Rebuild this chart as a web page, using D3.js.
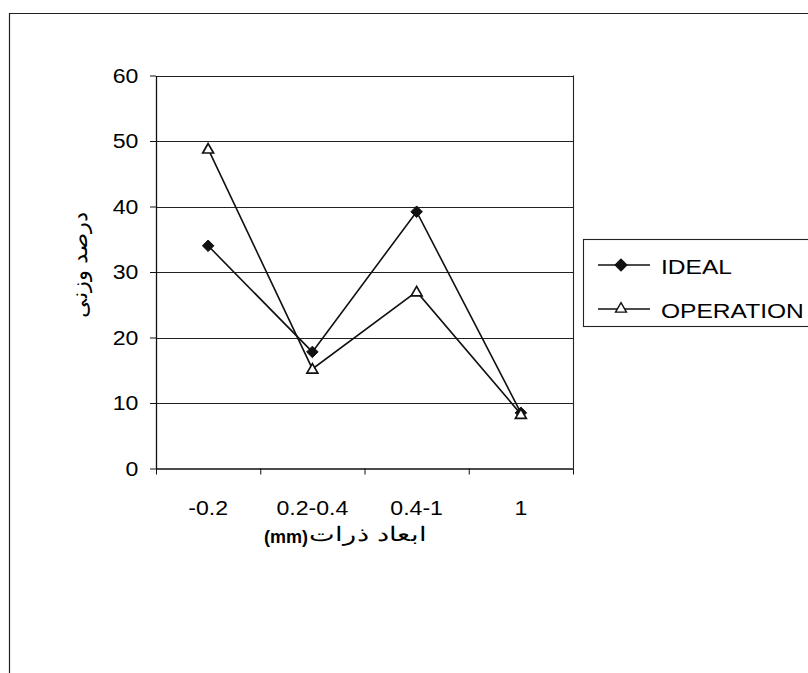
<!DOCTYPE html>
<html>
<head>
<meta charset="utf-8">
<script src="https://cdn.jsdelivr.net/npm/d3@7"></script>
<style>
  html, body { margin: 0; padding: 0; background: #fff; }
  svg { display: block; }
  text { font-family: "Liberation Sans", Arial, sans-serif; fill: #000; }
</style>
</head>
<body>
<svg id="chart" width="808" height="673"></svg>
<script>
// Particle size classes and weight percentages
const categories = ["-0.2", "0.2-0.4", "0.4-1", "1"];
const idealValues = [34, 17.8, 39.2, 8.5];
const operationValues = [48.8, 15.2, 27, 8.3];
const yTicks = [0, 10, 20, 30, 40, 50, 60];
const seriesNames = ["IDEAL", "OPERATION"];
const yTitle = "درصد وزنی";
const xTitleArabic = "ابعاد ذرات";
const xTitleUnit = "(mm)";

const svg = d3.select("#chart");
const stretch = "scale(1.1,1)";

// Outer chart frame (top and left edges)
svg.append("path")
  .attr("d", "M9.5,673 L9.5,13.5 L808,13.5")
  .attr("fill", "none").attr("stroke", "#222").attr("stroke-width", 1.2);

const plot = { left: 156, right: 573, top: 75.5, bottom: 468.5 };

const x = d3.scaleBand().domain(categories).range([plot.left, plot.right]).padding(0);
const xEdge = d3.scaleLinear().domain([0, categories.length]).range([plot.left, plot.right]);
const y = d3.scaleLinear().domain([0, 60]).range([plot.bottom, plot.top]);
const cx = d => x(d) + x.bandwidth() / 2;

// Horizontal gridlines
svg.append("g")
  .selectAll("line")
  .data(yTicks.filter(v => v > 0))
  .join("line")
  .attr("x1", plot.left).attr("x2", plot.right)
  .attr("y1", d => Math.round(y(d)) + 0.5).attr("y2", d => Math.round(y(d)) + 0.5)
  .attr("stroke", "#222").attr("stroke-width", 1.1);

// Right border of the plot area
svg.append("line")
  .attr("x1", plot.right + 0.5).attr("x2", plot.right + 0.5)
  .attr("y1", y(60)).attr("y2", y(0))
  .attr("stroke", "#222").attr("stroke-width", 1.1);

// Y axis
const yAxis = svg.append("g")
  .attr("transform", `translate(${plot.left},0)`)
  .call(d3.axisLeft(y).tickValues(yTicks).tickSize(6).tickPadding(10).tickSizeOuter(0));
yAxis.select(".domain").attr("stroke", "#111").attr("stroke-width", 1.3);
yAxis.selectAll(".tick line").attr("stroke", "#111");
yAxis.selectAll(".tick text")
  .attr("font-size", 21).attr("font-family", "Liberation Sans, Arial, sans-serif")
  .attr("transform", stretch).attr("x", -16);

// X axis: boundary tick marks
const xTicksAxis = svg.append("g")
  .attr("transform", `translate(0,${plot.bottom})`)
  .call(d3.axisBottom(xEdge).tickValues(d3.range(categories.length + 1)).tickSize(6).tickFormat("").tickSizeOuter(0));
xTicksAxis.select(".domain").attr("stroke", "#111").attr("stroke-width", 1.3);
xTicksAxis.selectAll(".tick line").attr("stroke", "#111");

// X axis: category labels at band centres
const xLabels = svg.append("g")
  .attr("transform", `translate(0,${plot.bottom})`)
  .call(d3.axisBottom(x).tickSize(0).tickPadding(32));
xLabels.select(".domain").remove();
xLabels.selectAll(".tick text")
  .attr("font-size", 21).attr("font-family", "Liberation Sans, Arial, sans-serif")
  .attr("transform", stretch);

// Series lines
const line = d3.line().x((d, i) => cx(categories[i])).y(d => y(d));
[idealValues, operationValues].forEach(vals => {
  svg.append("path")
    .datum(vals)
    .attr("d", line)
    .attr("fill", "none").attr("stroke", "#111").attr("stroke-width", 1.6);
});

const diamond = d3.symbol().type(d3.symbolDiamond2).size(85);
const triangle = d3.symbol().type(d3.symbolTriangle2).size(85);

// Markers
svg.append("g").selectAll("path")
  .data(idealValues)
  .join("path")
  .attr("d", diamond)
  .attr("transform", (d, i) => `translate(${cx(categories[i])},${y(d)})`)
  .attr("fill", "#111").attr("stroke", "#111").attr("stroke-width", 1);

svg.append("g").selectAll("path")
  .data(operationValues)
  .join("path")
  .attr("d", triangle)
  .attr("transform", (d, i) => `translate(${cx(categories[i])},${y(d) + 1})`)
  .attr("fill", "#fff").attr("stroke", "#111").attr("stroke-width", 1.7);

// Axis titles
svg.append("text")
  .attr("transform", `translate(87,265) rotate(-90)`)
  .attr("text-anchor", "middle")
  .attr("font-family", "DejaVu Sans, sans-serif")
  .attr("font-size", 21)
  .attr("textLength", 106).attr("lengthAdjust", "spacingAndGlyphs")
  .text(yTitle);

svg.append("text")
  .attr("x", 308).attr("y", 543)
  .attr("text-anchor", "end")
  .attr("font-size", 18).attr("font-weight", "bold")
  .text(xTitleUnit);
svg.append("text")
  .attr("x", 309).attr("y", 541)
  .attr("text-anchor", "start")
  .attr("font-family", "DejaVu Sans, sans-serif")
  .attr("font-size", 20)
  .attr("textLength", 118).attr("lengthAdjust", "spacingAndGlyphs")
  .text(xTitleArabic);

// Legend
const legend = svg.append("g");
legend.append("rect")
  .attr("x", 583.5).attr("y", 239.5).attr("width", 240).attr("height", 87)
  .attr("fill", "#fff").attr("stroke", "#222").attr("stroke-width", 1.1);

const legendRows = [
  { name: seriesNames[0], sym: diamond, fill: "#111", y: 265 },
  { name: seriesNames[1], sym: triangle, fill: "#fff", y: 309 }
];
legendRows.forEach(r => {
  legend.append("line")
    .attr("x1", 598).attr("x2", 650).attr("y1", r.y).attr("y2", r.y)
    .attr("stroke", "#111").attr("stroke-width", 1.6);
  legend.append("path")
    .attr("d", r.sym)
    .attr("transform", `translate(621,${r.y})`)
    .attr("fill", r.fill).attr("stroke", "#111").attr("stroke-width", 1.4);
  legend.append("text")
    .attr("transform", `translate(661,${r.y + 9}) scale(1.17,1)`)
    .attr("font-size", 21)
    .text(r.name);
});
</script>
</body>
</html>
